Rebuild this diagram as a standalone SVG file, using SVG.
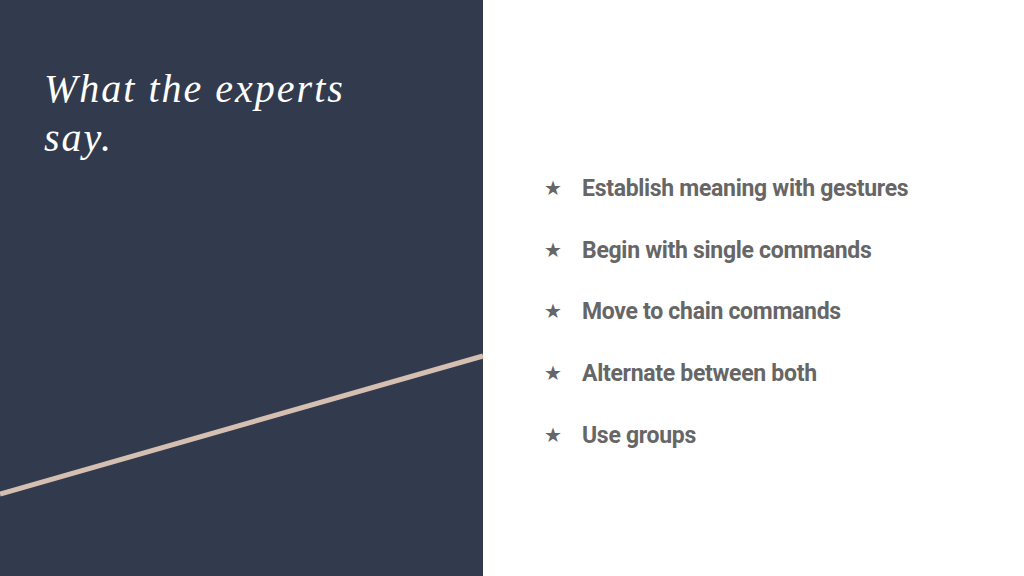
<svg xmlns="http://www.w3.org/2000/svg" width="1024" height="576" viewBox="0 0 1024 576">
<style>
.t{font-family:"Liberation Serif",serif;font-style:italic;font-size:40px;fill:#ffffff;letter-spacing:2px}
.b{font-family:Roboto,"Liberation Sans",sans-serif;font-weight:bold;font-size:23px;fill:#666666;letter-spacing:-0.3px}
.s{font-family:"DejaVu Sans",sans-serif;font-size:20px;fill:#666666}
</style>
<rect width="1024" height="576" fill="#ffffff"/>
<rect id="panel" x="0" y="0" width="483" height="576" fill="#323a4e"/>
<line id="stripe" x1="0" y1="494" x2="483" y2="356" stroke="#d5bfb0" stroke-width="5"/>
<g id="title">
<text class="t" x="44" y="102">What the experts</text>
<text class="t" x="44" y="151">say.</text>
</g>
<g id="bullets">
<text class="s" x="544" y="195">★</text><text class="b" x="582" y="196">Establish meaning with gestures</text>
<text class="s" x="544" y="257">★</text><text class="b" x="582" y="258">Begin with single commands</text>
<text class="s" x="544" y="318">★</text><text class="b" x="582" y="319">Move to chain commands</text>
<text class="s" x="544" y="380">★</text><text class="b" x="582" y="381">Alternate between both</text>
<text class="s" x="544" y="442">★</text><text class="b" x="582" y="443">Use groups</text>
</g>
</svg>
